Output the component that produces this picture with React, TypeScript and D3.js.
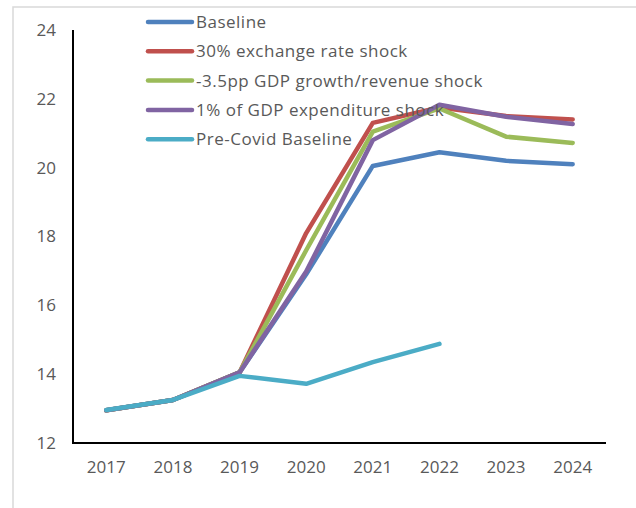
import React from "react";
import * as d3 from "d3";

const years = ["2017", "2018", "2019", "2020", "2021", "2022", "2023", "2024"];
const yTicks = [12, 14, 16, 18, 20, 22, 24];
const seriesNames = [
  "Baseline",
  "30% exchange rate shock",
  "-3.5pp GDP growth/revenue shock",
  "1% of GDP expenditure shock",
  "Pre-Covid Baseline",
];
const seriesColors = ["#4F81BD", "#C0504D", "#9BBB59", "#8064A2", "#4BACC6"];
const baseline = [12.95, 13.25, 14.05, 16.9, 20.05, 20.45, 20.2, 20.1];
const exchangeShock = [12.95, 13.25, 14.05, 18.1, 21.3, 21.75, 21.5, 21.4];
const growthShock = [12.95, 13.25, 14.05, 17.6, 21.05, 21.72, 20.9, 20.72];
const expenditureShock = [12.95, 13.25, 14.05, 16.98, 20.8, 21.83, 21.48, 21.27];
const preCovid = [12.96, 13.25, 13.95, 13.72, 14.35, 14.88];
const seriesValues = [baseline, exchangeShock, growthShock, expenditureShock, preCovid];

export default function App() {
  const W = 636, H = 508;
  const left = 73, right = 606, top = 30, bottom = 443;
  const x = d3.scaleBand().domain(years).range([left, right]);
  const y = d3.scaleLinear().domain([12, 24]).range([bottom, top]);
  const line = d3
    .line<number>()
    .x((_, i) => (x(years[i]) as number) + x.bandwidth() / 2)
    .y((d) => y(d));
  const font = "'Open Sans', sans-serif";
  const textColor = "#595959";
  return (
    <svg width={W} height={H} style={{ position: "absolute", left: 0, top: 0 }}>
      <rect x={0} y={0} width={W} height={H} fill="#fff" />
      <rect x={13} y={7} width={W} height={H} fill="none" stroke="#d9d9d9" strokeWidth={1.5} />
      {yTicks.map((t) => (
        <text key={t} x={56} y={y(t)} dy="0.35em" textAnchor="end" fontFamily={font} fontSize={17} fill={textColor}>
          {t}
        </text>
      ))}
      {years.map((yr) => (
        <text key={yr} x={(x(yr) as number) + x.bandwidth() / 2} y={467} dy="0.35em" textAnchor="middle" fontFamily={font} fontSize={17} fill={textColor}>
          {yr}
        </text>
      ))}
      {seriesValues.map((vals, i) => (
        <path key={i} d={line(vals) || ""} fill="none" stroke={seriesColors[i]} strokeWidth={4.5} strokeLinecap="round" strokeLinejoin="round" />
      ))}
      <line x1={left} x2={left} y1={top} y2={bottom + 1} stroke="#000" strokeWidth={2} />
      <line x1={left} x2={right} y1={bottom} y2={bottom} stroke="#000" strokeWidth={2} />
      {seriesNames.map((name, i) => {
        const ly = 22 + i * 29.3;
        return (
          <g key={name}>
            <line x1={148} x2={192} y1={ly} y2={ly} stroke={seriesColors[i]} strokeWidth={4.5} strokeLinecap="round" />
            <text x={196} y={ly} dy="0.35em" fontFamily={font} fontSize={17} letterSpacing={0.5} fill={textColor}>
              {name}
            </text>
          </g>
        );
      })}
    </svg>
  );
}
